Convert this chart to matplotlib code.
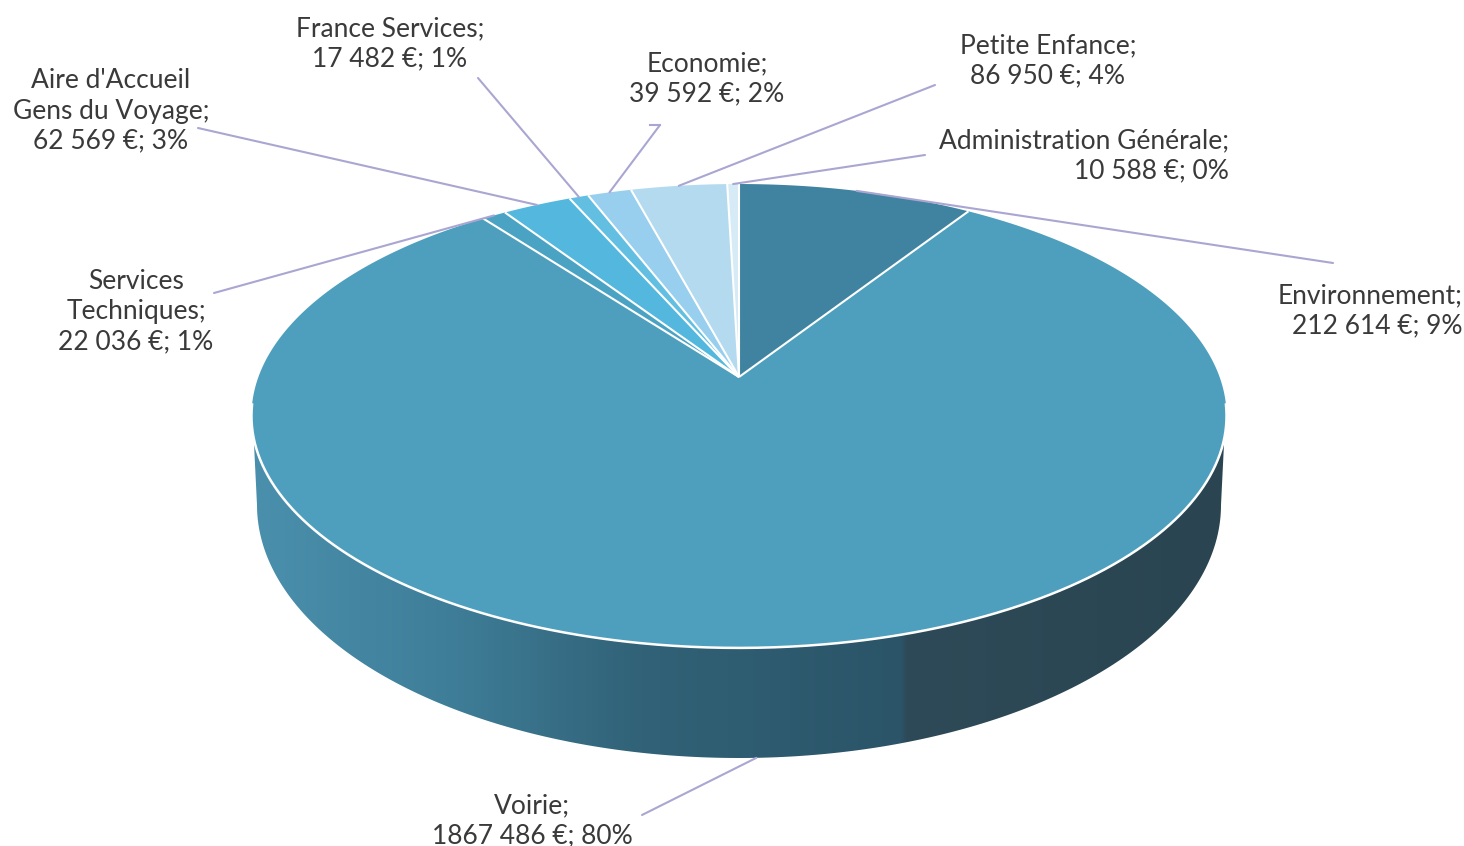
import numpy as np
import matplotlib
matplotlib.use("Agg")
import matplotlib.pyplot as plt
from matplotlib.colors import LinearSegmentedColormap
from matplotlib.patches import Polygon

names = ["Environnement", "Voirie", "Services\nTechniques", "Aire d'Accueil\nGens du Voyage",
         "France Services", "Economie", "Petite Enfance", "Administration Générale"]
values = [212614, 1867486, 22036, 62569, 17482, 39592, 86950, 10588]
percents = [9, 80, 1, 3, 1, 2, 4, 0]
amounts = ["212 614", "1867 486", "22 036", "62 569", "17 482", "39 592", "86 950", "10 588"]

colors = ["#3f83a0", "#4d9fbd", "#4ba3c4", "#53b7de", "#62bfe2", "#98cfee", "#b4daef", "#d6ebf6"]

# label layout: x, y of the text block, alignment, elbow of the leader
label_pos = [(1462, 311, "right"), (532, 821, "center"), (136, 312, "center"), (111, 111, "center"),
             (390, 44, "center"), (707, 79, "center"), (1048, 61, "center"), (1229, 156, "right")]
leader_end = [(1333, 263), (642, 815), (214, 293), (198, 128),
              (478, 78), (660, 125), (935, 85), (925, 155)]

# pie geometry in pixels
cx, cy = 739, 377
a, b, k = 480.6, 225.4, 0.168
bot_cy, bot_a, bot_b = 505, 482, 253


def rim(theta):
    d = 1 + k * np.cos(theta)
    return cx + a * np.sin(theta) / d, cy - b * np.cos(theta) / d


fig = plt.figure(figsize=(14.64, 8.46), dpi=100)
ax = fig.add_axes([0, 0, 1, 1])
ax.set_xlim(0, 1464)
ax.set_ylim(846, 0)
ax.axis("off")

fracs = np.array(values) / sum(values)
edges = np.concatenate([[0], np.cumsum(fracs)]) * 2 * np.pi
mids = (edges[:-1] + edges[1:]) / 2

# side of the disc
t = np.linspace(-np.pi / 2, np.pi / 2, 300)
ox = 739 + bot_a * np.sin(t)
oy = bot_cy + bot_b * np.cos(t)
lx0, ly0 = rim(np.pi * 1.5 - 0.12)
rx0, ry0 = rim(np.pi * 0.5 + 0.12)
side_path = np.column_stack([np.r_[lx0, ox, rx0], np.r_[ly0, oy, ry0]])
side_poly = Polygon(side_path, closed=True, facecolor="none", edgecolor="none")
ax.add_patch(side_poly)
stops = [(0.0, "#4a90ad"), (0.2, "#3f7e99"), (0.4, "#316277"), (0.668, "#2b5468"),
         (0.672, "#2e4a58"), (1.0, "#2a4551")]
side_cmap = LinearSegmentedColormap.from_list("side", stops, N=512)
img = ax.imshow(np.linspace(0, 1, 512).reshape(1, -1), cmap=side_cmap, aspect="auto",
                extent=(251, 1226, 770, 400), zorder=1)
img.set_clip_path(side_poly)
ax.set_xlim(0, 1464)
ax.set_ylim(846, 0)

# top face
for i in range(len(values)):
    th = np.linspace(edges[i], edges[i + 1], 300)
    x, y = rim(th)
    ax.fill(np.r_[cx, x], np.r_[cy, y], color=colors[i], lw=0, zorder=2)

# white separators and front rim
for e in edges[:-1]:
    x, y = rim(e)
    ax.plot([cx, x], [cy, y], color="white", lw=1.5, zorder=3, solid_capstyle="butt")
fr = np.linspace(np.pi * 0.5 + 0.12, np.pi * 1.5 - 0.12, 500)
x, y = rim(fr)
ax.plot(x, y, color="white", lw=1.8, zorder=3)

# leaders and labels
for i in range(len(values)):
    if names[i] == "Voirie":
        sx, sy = 739 + bot_a * np.sin(mids[i]), bot_cy - bot_b * np.cos(mids[i])
    else:
        sx, sy = rim(mids[i])
    ex, ey = leader_end[i]
    ax.plot([sx, ex], [sy, ey], color="#aaa6d2", lw=1.5, zorder=4, solid_capstyle="round")
    if names[i] == "Economie":
        ax.plot([ex - 10, ex], [ey, ey], color="#aaa6d2", lw=1.5, zorder=4)
    lx, ly, ha = label_pos[i]
    text = f"{names[i]};\n{amounts[i]} €; {percents[i]}%"
    ax.text(lx, ly, text, ha=ha, va="center", fontsize=19, family="Lato", color="#3a3a3a",
            linespacing=1.26, multialignment=ha, zorder=5)

fig.savefig("out.png", dpi=100, facecolor="white")
